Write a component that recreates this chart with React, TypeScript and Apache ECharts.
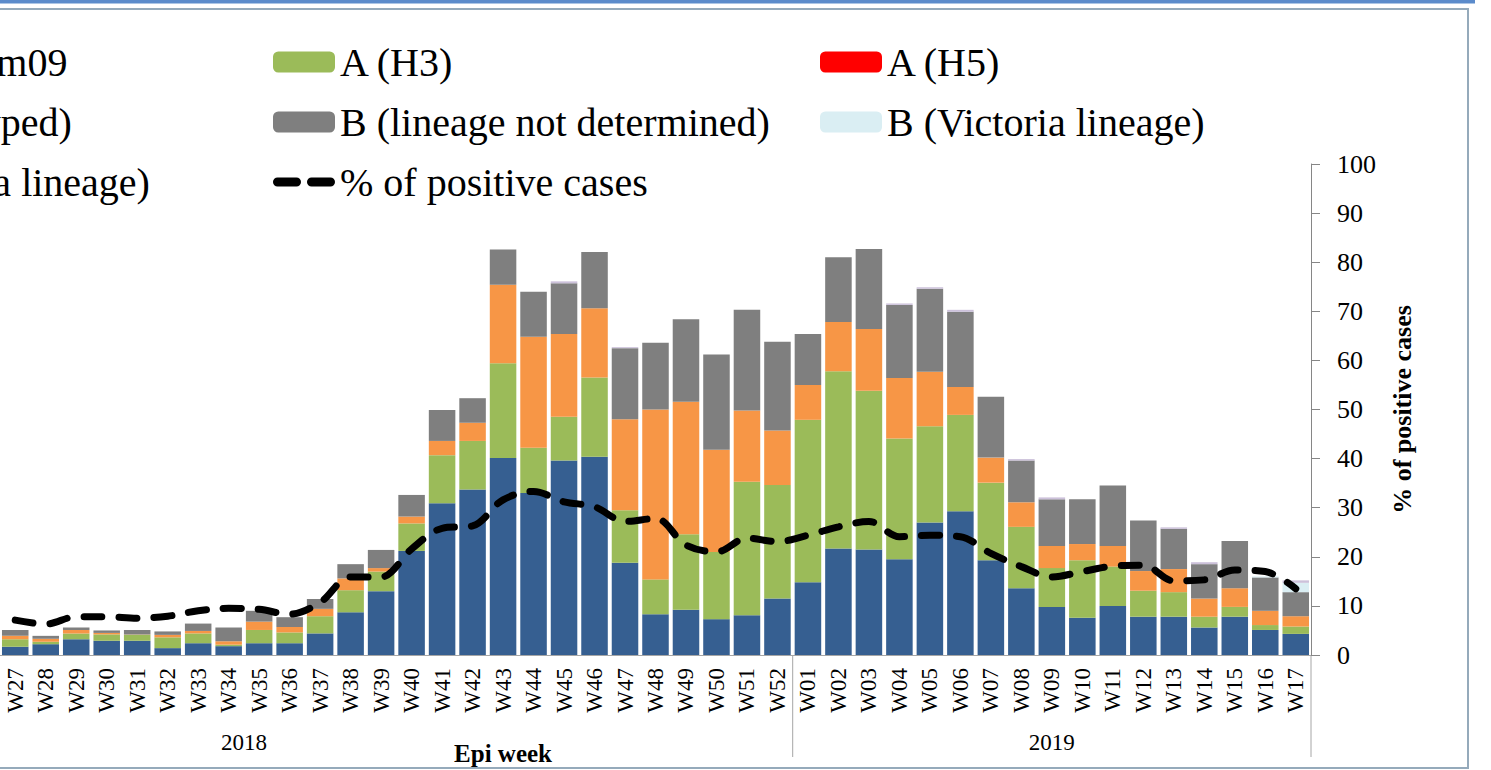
import React, { useEffect, useRef } from "react";
import * as echarts from "echarts";

const weeks = [
  "W27", "W28", "W29", "W30", "W31", "W32", "W33", "W34", "W35", "W36", "W37", "W38", "W39", "W40",
  "W41", "W42", "W43", "W44", "W45", "W46", "W47", "W48", "W49", "W50", "W51", "W52",
  "W01", "W02", "W03", "W04", "W05", "W06", "W07", "W08", "W09", "W10", "W11", "W12", "W13",
  "W14", "W15", "W16", "W17",
];

const h1n1pdm09 = [
  1.7, 2.2, 3.2, 2.9, 2.9, 1.4, 2.4, 1.8, 2.4, 2.4, 4.4, 8.7, 13.0, 21.2,
  30.9, 33.7, 40.1, 33.0, 39.6, 40.4, 18.8, 8.3, 9.2, 7.3, 8.1, 11.5,
  14.8, 21.7, 21.5, 19.5, 27.0, 29.3, 19.3, 13.6, 9.8, 7.6, 10.0, 7.8, 7.8,
  5.6, 7.8, 5.1, 4.3,
];
const h3 = [
  1.5, 0.5, 1.2, 1.3, 1.2, 2.2, 2.0, 0.3, 2.7, 2.2, 3.5, 4.5, 4.0, 5.6,
  9.8, 9.9, 19.3, 9.2, 8.9, 16.1, 10.7, 7.1, 15.4, 13.7, 27.2, 23.1,
  33.1, 36.1, 32.3, 24.6, 19.6, 19.6, 15.8, 12.5, 7.9, 11.7, 8.0, 5.3, 5.0,
  2.2, 2.0, 1.0, 1.5,
];
const h5 = [
  0, 0, 0, 0, 0, 0, 0, 0, 0, 0, 0, 0, 0, 0,
  0, 0, 0, 0, 0, 0, 0, 0, 0, 0, 0, 0,
  0, 0, 0, 0, 0, 0, 0, 0, 0, 0, 0, 0, 0,
  0, 0, 0, 0,
];
const notSubtyped = [
  0.7, 0.6, 0.7, 0.3, 0.1, 0.5, 0.5, 0.7, 1.7, 1.1, 1.5, 2.4, 0.7, 1.4,
  2.9, 3.7, 16.0, 22.6, 16.9, 14.1, 18.5, 34.6, 27.0, 20.8, 14.5, 11.1,
  7.1, 10.0, 12.6, 12.3, 11.1, 5.7, 5.1, 5.0, 4.5, 3.3, 4.2, 4.0, 4.7,
  3.7, 3.8, 2.9, 2.1,
];
const bNotDetermined = [
  1.2, 0.6, 0.5, 0.5, 0.9, 0.7, 1.5, 2.8, 2.2, 2.0, 2.0, 2.9, 3.7, 4.4,
  6.3, 5.0, 7.2, 9.2, 10.3, 11.5, 14.5, 13.6, 16.8, 19.4, 20.5, 18.1,
  10.4, 13.2, 16.3, 14.9, 16.9, 15.3, 12.4, 8.5, 9.5, 9.1, 12.3, 10.3, 8.2,
  7.0, 9.6, 6.8, 4.9,
];
const bVictoria = [
  0, 0, 0, 0, 0, 0, 0, 0, 0, 0, 0, 0, 0, 0,
  0, 0, 0, 0, 0, 0, 0, 0, 0, 0, 0, 0,
  0, 0, 0, 0, 0, 0, 0, 0, 0, 0, 0, 0, 0,
  0, 0, 0.2, 1.9,
];
const bYamagata = [
  0, 0, 0, 0, 0, 0, 0, 0, 0, 0, 0, 0, 0, 0,
  0, 0, 0, 0, 0.4, 0, 0.2, 0, 0, 0, 0, 0,
  0, 0, 0, 0.3, 0.3, 0.4, 0, 0.3, 0.4, 0, 0, 0, 0.3,
  0.4, 0, 0, 0.5,
];
const pctPositive = [
  7.1, 6.3, 7.8, 7.8, 7.5, 7.9, 9.0, 9.5, 9.3, 8.3, 10.7, 15.9, 15.9, 21.6,
  25.8, 26.3, 31.6, 33.3, 31.2, 30.2, 27.2, 27.8, 22.4, 21.0, 23.8, 23.1,
  24.4, 26.1, 27.2, 24.1, 24.4, 24.1, 20.7, 18.0, 15.9, 17.0, 18.1, 18.3, 15.1,
  15.3, 17.3, 17.0, 13.5,
];

const yearLabels = ["2018", "2019"];
const FONT = "'Liberation Serif', 'Times New Roman', serif";

export default function App() {
  const ref = useRef<HTMLDivElement>(null);

  useEffect(() => {
    const chart = echarts.init(ref.current!, null, { renderer: "svg" });

    const bar = (name: string, data: number[], color: string) => ({
      name,
      type: "bar",
      stack: "total",
      data,
      barCategoryGap: "13%",
      itemStyle: { color },
      silent: true,
    });

    const legendBase = {
      orient: "vertical",
      top: 42,
      padding: 0,
      itemWidth: 62,
      itemHeight: 21,
      itemGap: 20,
      selectedMode: false,
      textStyle: { fontFamily: FONT, fontSize: 40, lineHeight: 40, color: "#000" },
    };
    const dashIcon =
      "path://M4.5,0 L23.5,0 A4.5,4.5 0 0 1 23.5,9 L4.5,9 A4.5,4.5 0 0 1 4.5,0 Z M38.5,0 L57.5,0 A4.5,4.5 0 0 1 57.5,9 L38.5,9 A4.5,4.5 0 0 1 38.5,0 Z";

    chart.setOption({
      animation: false,
      grid: { left: -14.1, right: 180, top: 164, bottom: 115 },
      legend: [
        { ...legendBase, left: -264, data: ["A(H1N1)pdm09", "A (not subtyped)", "B (Yamagata lineage)"] },
        {
          ...legendBase,
          left: 273,
          data: ["A (H3)", "B (lineage not determined)", { name: "% of positive cases", icon: dashIcon }],
        },
        { ...legendBase, left: 820, data: ["A (H5)", "B (Victoria lineage)"] },
      ],
      xAxis: {
        type: "category",
        data: weeks,
        axisLine: { lineStyle: { color: "#A6A6A6", width: 1 } },
        axisTick: { interval: 0, length: 62, lineStyle: { color: "#A6A6A6" } },
        axisLabel: { interval: 0, rotate: 90, margin: 13, fontFamily: FONT, fontSize: 23, color: "#000" },
      },
      yAxis: {
        type: "value",
        position: "right",
        min: 0,
        max: 100,
        interval: 10,
        splitLine: { show: false },
        axisLine: { show: true, lineStyle: { color: "#868686" } },
        axisTick: { show: true, length: 9, lineStyle: { color: "#868686" } },
        axisLabel: { margin: 26, fontFamily: FONT, fontSize: 26, color: "#000" },
        name: "% of positive cases",
        nameLocation: "middle",
        nameRotate: 90,
        nameGap: 78,
        nameTextStyle: { fontFamily: FONT, fontSize: 26, fontWeight: "bold", color: "#000" },
      },
      series: [
        bar("A(H1N1)pdm09", h1n1pdm09, "#365F91"),
        bar("A (H3)", h3, "#9BBB59"),
        bar("A (H5)", h5, "#FF0000"),
        bar("A (not subtyped)", notSubtyped, "#F79646"),
        bar("B (lineage not determined)", bNotDetermined, "#7F7F7F"),
        bar("B (Victoria lineage)", bVictoria, "#DAEEF3"),
        bar("B (Yamagata lineage)", bYamagata, "#CCC1DA"),
        {
          name: "% of positive cases",
          type: "line",
          data: pctPositive,
          smooth: 0.35,
          symbol: "none",
          z: 10,
          silent: true,
          itemStyle: { color: "#000" },
          lineStyle: { color: "#000", width: 7, type: [18, 17], cap: "round" },
        },
      ],
    });

    // layout helpers derived from the axis scales
    const x52 = chart.convertToPixel({ xAxisIndex: 0 }, "W52") as number;
    const x01 = chart.convertToPixel({ xAxisIndex: 0 }, "W01") as number;
    const cw = x01 - x52;
    const boundary = (x52 + x01) / 2;
    const rightEnd = boundary + 17 * cw;
    const y0 = chart.convertToPixel({ yAxisIndex: 0 }, 0) as number;
    const lineBottom = y0 + 102;
    const weeks2018 = 36; // W17..W52 of 2018 (part lies outside the crop)
    const start2018 = boundary - weeks2018 * cw;

    chart.setOption({
      graphic: [
        { type: "rect", shape: { x: 0, y: 0, width: 1475, height: 3.5 }, style: { fill: "#5B8BCB" }, silent: true },
        {
          type: "rect",
          shape: { x: -5, y: 9, width: 1473, height: 759 },
          style: { fill: "none", stroke: "#95AABB", lineWidth: 2 },
          silent: true,
        },
        {
          type: "line",
          shape: { x1: boundary, y1: y0, x2: boundary, y2: lineBottom },
          style: { stroke: "#A6A6A6", lineWidth: 1 },
          silent: true,
        },
        {
          type: "line",
          shape: { x1: rightEnd, y1: y0, x2: rightEnd, y2: lineBottom },
          style: { stroke: "#A6A6A6", lineWidth: 1 },
          silent: true,
        },
        {
          type: "text",
          x: (start2018 + boundary) / 2,
          y: 742,
          style: { text: yearLabels[0], font: `23px ${FONT}`, fill: "#000", align: "center", verticalAlign: "middle" },
          silent: true,
        },
        {
          type: "text",
          x: (boundary + rightEnd) / 2,
          y: 742,
          style: { text: yearLabels[1], font: `23px ${FONT}`, fill: "#000", align: "center", verticalAlign: "middle" },
          silent: true,
        },
        {
          type: "text",
          x: (start2018 + rightEnd) / 2,
          y: 753,
          style: { text: "Epi week", font: `bold 25px ${FONT}`, fill: "#000", align: "center", verticalAlign: "middle" },
          silent: true,
        },
      ],
    });

    return () => chart.dispose();
  }, []);

  return (
    <div
      ref={ref}
      style={{ position: "fixed", left: 0, top: 0, width: 1491, height: 770, background: "#fff" }}
    />
  );
}
